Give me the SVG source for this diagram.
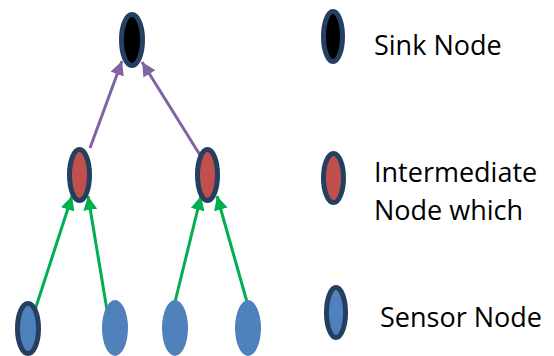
<svg xmlns="http://www.w3.org/2000/svg" width="554" height="356" viewBox="0 0 554 356">
<style>
.bd{stroke:#243F60;stroke-width:5}
.sink{fill:#000000}
.mid{fill:#C0504D}
.sen{fill:#4F81BD}
.p{stroke:#8064A2;stroke-width:3;fill:none}
.g{stroke:#00B050;stroke-width:3;fill:none}
text{font-family:"Open Sans","Liberation Sans",sans-serif;font-size:27px;fill:#000000}
</style>
<defs>
<marker id="ap" viewBox="0 0 14 14" markerWidth="14" markerHeight="14" markerUnits="userSpaceOnUse" refX="14" refY="7" orient="auto"><path d="M0,0 L14,7 L0,14 z" fill="#8064A2"/></marker>
<marker id="ag" viewBox="0 0 14 14" markerWidth="14" markerHeight="14" markerUnits="userSpaceOnUse" refX="14" refY="7" orient="auto"><path d="M0,0 L14,7 L0,14 z" fill="#00B050"/></marker>
</defs>
<rect width="554" height="356" fill="#FFFFFF"/>
<g id="connectors">
<line class="p" x1="90" y1="148" x2="122" y2="61" marker-end="url(#ap)"/>
<line class="p" x1="200" y1="155" x2="142" y2="62" marker-end="url(#ap)"/>
<line class="g" x1="35" y1="310" x2="72" y2="196" marker-end="url(#ag)"/>
<line class="g" x1="107" y1="310" x2="88" y2="196" marker-end="url(#ag)"/>
<line class="g" x1="175" y1="302" x2="201" y2="196" marker-end="url(#ag)"/>
<line class="g" x1="247" y1="302" x2="217" y2="196" marker-end="url(#ag)"/>
</g>
<g id="sink"><ellipse class="bd sink" cx="132" cy="40" rx="10.5" ry="25.5"/></g>
<g id="mid1"><ellipse class="bd mid" cx="79.5" cy="175" rx="10" ry="25.5"/></g>
<g id="mid2"><ellipse class="bd mid" cx="207.5" cy="175" rx="10" ry="25.5"/></g>
<g id="sensor1"><ellipse class="bd sen" cx="28" cy="328.5" rx="10.5" ry="25"/></g>
<g id="sensor2"><ellipse class="sen" cx="115" cy="328" rx="13" ry="28"/></g>
<g id="sensor3"><ellipse class="sen" cx="175" cy="328" rx="13" ry="28"/></g>
<g id="sensor4"><ellipse class="sen" cx="248" cy="328" rx="13" ry="28"/></g>
<g id="legend-sink"><ellipse class="bd sink" cx="333" cy="36.5" rx="9.5" ry="25"/><text x="374" y="55">Sink Node</text></g>
<g id="legend-mid"><ellipse class="bd mid" cx="333.5" cy="178" rx="10" ry="24.5"/><text x="374" y="182">Intermediate</text><text x="374" y="220">Node which</text></g>
<g id="legend-sensor"><ellipse class="bd sen" cx="336" cy="312.5" rx="9.5" ry="25"/><text x="380" y="327">Sensor Node</text></g>
</svg>
